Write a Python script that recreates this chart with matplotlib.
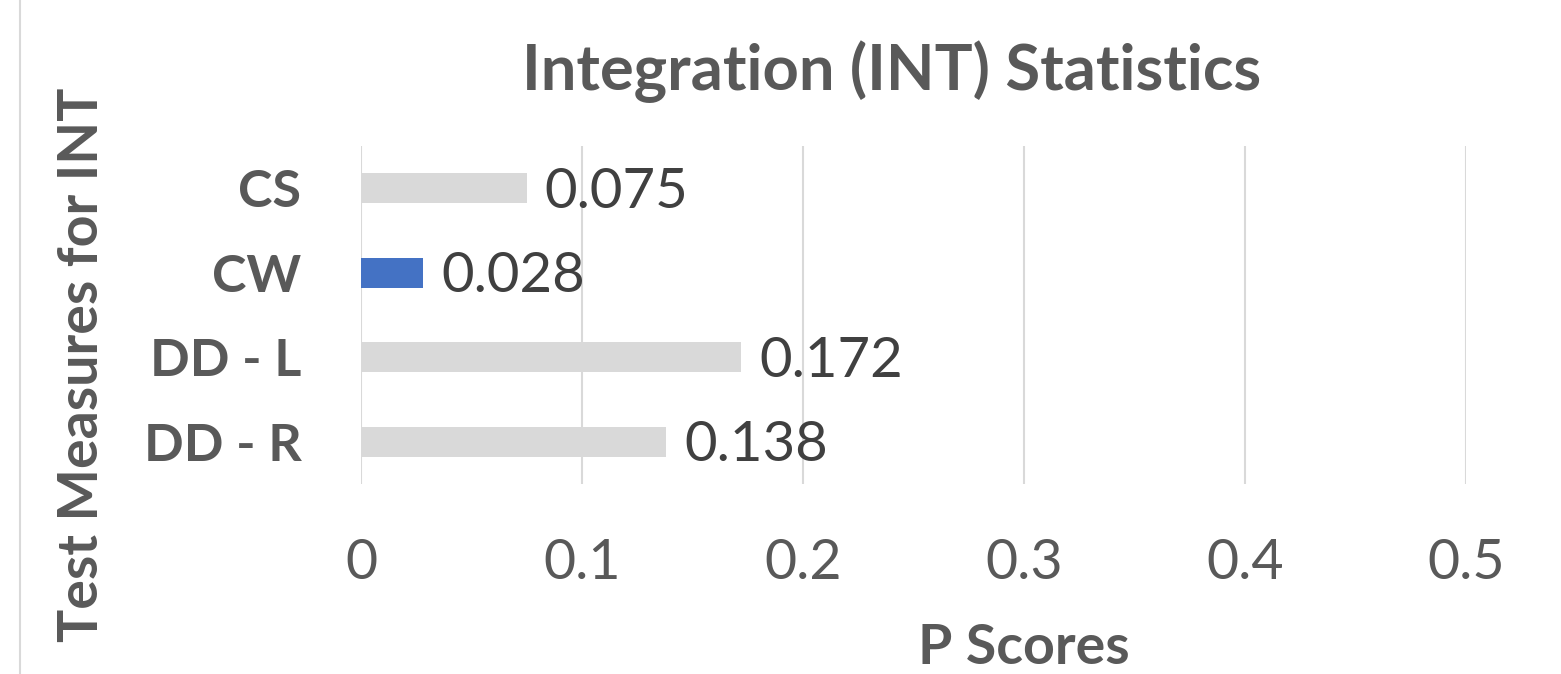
import matplotlib
matplotlib.use("Agg")
import matplotlib.pyplot as plt
from matplotlib.lines import Line2D

categories = ["CS", "CW", "DD - L", "DD - R"]
p_scores = [0.075, 0.028, 0.172, 0.138]
bar_colors = ["#d9d9d9", "#4472c4", "#d9d9d9", "#d9d9d9"]
x_ticks = [0, 0.1, 0.2, 0.3, 0.4, 0.5]
x_ticklabels = ["0", "0.1", "0.2", "0.3", "0.4", "0.5"]
label_texts = ["0.075", "0.028", "0.172", "0.138"]

TXT = "#595959"
plt.rcParams['font.family'] = ['Lato', 'DejaVu Sans']

W, H = 1561, 674
fig = plt.figure(figsize=(W / 100, H / 100), dpi=100)
ax = fig.add_axes([361 / W, 1 - 484 / H, (1466 - 361) / W, (484 - 146) / H])

ypos = list(range(len(categories)))
ax.barh(ypos, p_scores, height=0.36, color=bar_colors, zorder=3)
ax.set_ylim(len(categories) - 0.5, -0.5)
ax.set_xlim(0, 0.5)
ax.set_yticks(ypos)
ax.set_yticklabels(categories, fontsize=37.5, fontweight='bold', color=TXT)
ax.set_xticks(x_ticks)
ax.set_xticklabels(x_ticklabels, fontsize=40, color=TXT)
ax.tick_params(axis='both', length=0)
ax.tick_params(axis='y', pad=43)
ax.tick_params(axis='x', pad=39)
for s in ax.spines.values():
    s.set_visible(False)
ax.grid(axis='x', color='#d9d9d9', linewidth=1.5, zorder=0)
ax.set_axisbelow(True)

for y, v, t in zip(ypos, p_scores, label_texts):
    ax.annotate(t, xy=(v, y), xytext=(13, -3), textcoords='offset points',
                ha='left', va='center', fontsize=40.5, color='#404040', zorder=4)

fig.text(892 / W, 1 - 72 / H, "Integration (INT) Statistics", ha='center', va='center',
         fontsize=45.5, fontweight='bold', color=TXT)
fig.text(1024 / W, 1 - 648 / H, "P Scores", ha='center', va='center',
         fontsize=40, fontweight='bold', color=TXT)
fig.text(82 / W, 1 - 365 / H, "Test Measures for INT", ha='center', va='center',
         rotation=90, fontsize=40, fontweight='bold', color=TXT)

fig.add_artist(Line2D([20 / W, 20 / W], [0, 1], transform=fig.transFigure,
                      color='#d9d9d9', linewidth=1.5))

fig.savefig("out.png", dpi=100, facecolor='white')
